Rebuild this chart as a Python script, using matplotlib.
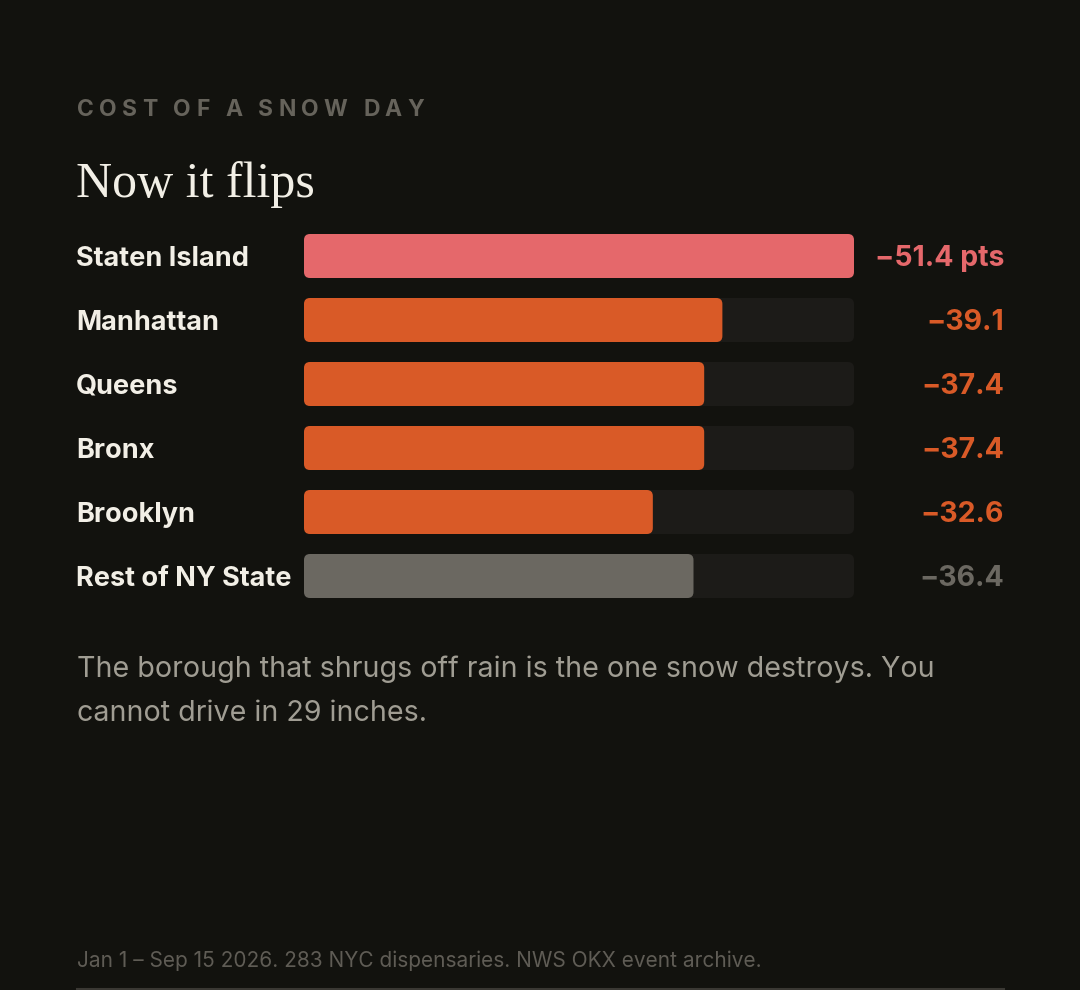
import matplotlib
matplotlib.use("Agg")
import matplotlib.pyplot as plt
from matplotlib.patches import FancyBboxPatch
from matplotlib import transforms as mtrans
from matplotlib.lines import Line2D

# ---------------- data ----------------
categories = ["Staten Island", "Manhattan", "Queens", "Bronx", "Brooklyn", "Rest of NY State"]
values = [-51.4, -39.1, -37.4, -37.4, -32.6, -36.4]
value_labels = ["\u221251.4 pts", "\u221239.1", "\u221237.4", "\u221237.4", "\u221232.6", "\u221236.4"]
groups = ["highlight", "borough", "borough", "borough", "borough", "state"]

kicker = "COST OF A SNOW DAY"
title = "Now it flips"
note_lines = ["The borough that shrugs off rain is the one snow destroys. You",
              "cannot drive in 29 inches."]
footer = "Jan 1 \u2013 Sep 15 2026. 283 NYC dispensaries. NWS OKX event archive."

# ---------------- style ----------------
BG = "#12120e"
TRACK = "#1c1b18"
BAR_COLORS = {"highlight": "#e5686b", "borough": "#d95a27", "state": "#6b6861"}
LABEL_COLOR = "#f2efe6"
KICKER_COLOR = "#66635b"
NOTE_COLOR = "#a09d93"
FOOT_COLOR = "#5f5c55"

plt.rcParams["font.family"] = ["Inter", "DejaVu Sans"]

W, H = 1080, 990
fig = plt.figure(figsize=(W / 100, H / 100), dpi=100, facecolor=BG)
bg = fig.add_axes([0, 0, 1, 1])
bg.set_xlim(0, W)
bg.set_ylim(H, 0)
bg.axis("off")
bg.set_facecolor(BG)

# bar panel
left, right, top, bottom = 304, 854, 224, 608
ax = fig.add_axes([left / W, 1 - bottom / H, (right - left) / W, (bottom - top) / H])
ax.axis("off")
ax.patch.set_alpha(0)
n = len(categories)
vmax = max(abs(v) for v in values)
ax.set_xlim(0, vmax)
ax.set_ylim(n - 0.5, -0.5)

row_px = (bottom - top) / n
bar_h = 44 / row_px
x_per_px = vmax / (right - left)
y_per_px = 1 / row_px
radius = 6 * x_per_px
asp = y_per_px / x_per_px

for i, (v, g) in enumerate(zip(values, groups)):
    track = FancyBboxPatch((0, i - bar_h / 2), vmax, bar_h,
                           boxstyle=f"round,pad=0,rounding_size={radius}",
                           mutation_aspect=asp, facecolor=TRACK, edgecolor="none")
    ax.add_patch(track)
    bar = FancyBboxPatch((0, i - bar_h / 2), abs(v), bar_h,
                         boxstyle=f"round,pad=0,rounding_size={radius}",
                         mutation_aspect=asp, facecolor=BAR_COLORS[g], edgecolor="none")
    ax.add_patch(bar)

trans = mtrans.blended_transform_factory(bg.transData, ax.transData)
base_off = 10 * y_per_px
for i, (c, lab, g) in enumerate(zip(categories, value_labels, groups)):
    bg.text(76, i + base_off, c, transform=trans, ha="left", va="baseline",
            fontsize=19.5, fontweight="bold", color=LABEL_COLOR)
    bg.text(1004, i + base_off, lab, transform=trans, ha="right", va="baseline",
            fontsize=20.5, fontweight="bold", color=BAR_COLORS[g])

# kicker with letter spacing
renderer = fig.canvas.get_renderer()
kfs = 16.5
def tw(s):
    t = bg.text(0, 0, s + "|", fontsize=kfs, fontweight="bold")
    w1 = t.get_window_extent(renderer).width
    t.remove()
    t2 = bg.text(0, 0, "|", fontsize=kfs, fontweight="bold")
    w2 = t2.get_window_extent(renderer).width
    t2.remove()
    return w1 - w2
natural = tw(kicker)
target = 424 - 77
sp = (target - natural) / (len(kicker) - 1)
for k, ch in enumerate(kicker):
    if ch == " ":
        continue
    x = 77 + (tw(kicker[:k]) if k > 0 else 0) + k * sp
    bg.text(x, 116, ch, ha="left", va="baseline", fontsize=kfs, fontweight="bold",
            color=KICKER_COLOR)

# title
bg.text(76, 197, title, ha="left", va="baseline", fontsize=36,
        family=["Liberation Serif", "DejaVu Serif"], color=LABEL_COLOR)

# note
for j, line in enumerate(note_lines):
    bg.text(77, 677 + 44 * j, line, ha="left", va="baseline", fontsize=20.6,
            color=NOTE_COLOR)

# footer
bg.text(77, 967, footer, ha="left", va="baseline", fontsize=15, color=FOOT_COLOR)
bg.add_line(Line2D([77, 1004], [989, 989], color="#3a3833", lw=1.5))

fig.savefig("out.png", dpi=100, facecolor=BG)
